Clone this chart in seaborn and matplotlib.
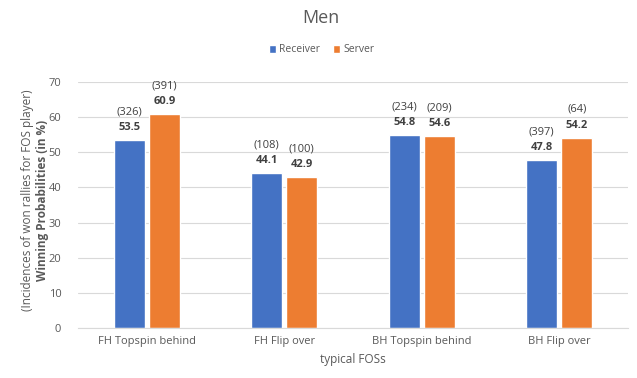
import matplotlib
matplotlib.use("Agg")
import matplotlib.pyplot as plt
import seaborn as sns
import pandas as pd

categories = ["FH Topspin behind", "FH Flip over", "BH Topspin behind", "BH Flip over"]
receiver_prob = [53.5, 44.1, 54.8, 47.8]
server_prob = [60.9, 42.9, 54.6, 54.2]
receiver_n = [326, 108, 234, 397]
server_n = [391, 100, 209, 64]
roles = ["Receiver", "Server"]

df = pd.DataFrame({
    "fos": categories * 2,
    "role": [roles[0]] * len(categories) + [roles[1]] * len(categories),
    "prob": receiver_prob + server_prob,
    "n": receiver_n + server_n,
})

sns.set_theme(style="white")
plt.rcParams["font.family"] = ["Open Sans", "DejaVu Sans"]

text_gray = "#595959"
grid_gray = "#D9D9D9"
palette = {"Receiver": "#4472C4", "Server": "#ED7D31"}

fig = plt.figure(figsize=(6.37, 3.78), dpi=100)
ax = fig.add_axes([0.1225, 0.132, 0.8635, 0.651])

sns.barplot(data=df, x="fos", y="prob", hue="role", order=categories,
            hue_order=roles, palette=palette, width=0.51, gap=0.12,
            saturation=1, ax=ax, legend=True)

ax.set_ylim(0, 70)
ax.set_yticks(range(0, 71, 10))
ax.set_xlim(-0.5, 3.5)
ax.yaxis.grid(True, color=grid_gray, linewidth=0.8)
ax.set_axisbelow(True)
for s in ["top", "right", "left"]:
    ax.spines[s].set_visible(False)
ax.spines["bottom"].set_color(grid_gray)
ax.spines["bottom"].set_linewidth(0.8)
ax.tick_params(axis="both", length=0, labelsize=8, colors=text_gray, pad=6)
ax.tick_params(axis="y", pad=12)
ax.set_xlabel("typical FOSs", fontsize=8.5, color=text_gray, labelpad=4)
ax.set_ylabel("")

# value and count labels above each bar
counts = {roles[0]: receiver_n, roles[1]: server_n}
for cont, role in zip(ax.containers, roles):
    for bar, n in zip(cont, counts[role]):
        cx = bar.get_x() + bar.get_width() / 2
        top = bar.get_height()
        ax.annotate(f"{top:.1f}", (cx, top), xytext=(0, 9), textcoords="offset points",
                    ha="center", va="center", fontsize=8, fontweight="bold", color="#404040")
        ax.annotate(f"({n})", (cx, top), xytext=(0, 20.5), textcoords="offset points",
                    ha="center", va="center", fontsize=8, color="#404040")

# legend above the plot
handles, labels = ax.get_legend_handles_labels()
ax.legend(handles, labels, loc="center", bbox_to_anchor=(0.505, 1 - 50 / 378),
          bbox_transform=fig.transFigure, ncol=2, frameon=False, fontsize=7.5,
          handlelength=0.7, handleheight=0.7, handletextpad=0.3, columnspacing=1.2,
          labelcolor=text_gray)

fig.text(0.503, 1 - 18 / 378, "Men", ha="center", va="center", fontsize=13, color=text_gray)

# two-line y label: plain first line, bold second line
fig.text(28 / 637, 1 - 200 / 378, "(Incidences of won rallies for FOS player)",
         rotation=90, ha="center", va="center", fontsize=8.5, color=text_gray)
fig.text(43 / 637, 1 - 200 / 378, "Winning Probabilities (in %)",
         rotation=90, ha="center", va="center", fontsize=8.5, fontweight="bold", color=text_gray)

fig.savefig("out.png", dpi=100)
